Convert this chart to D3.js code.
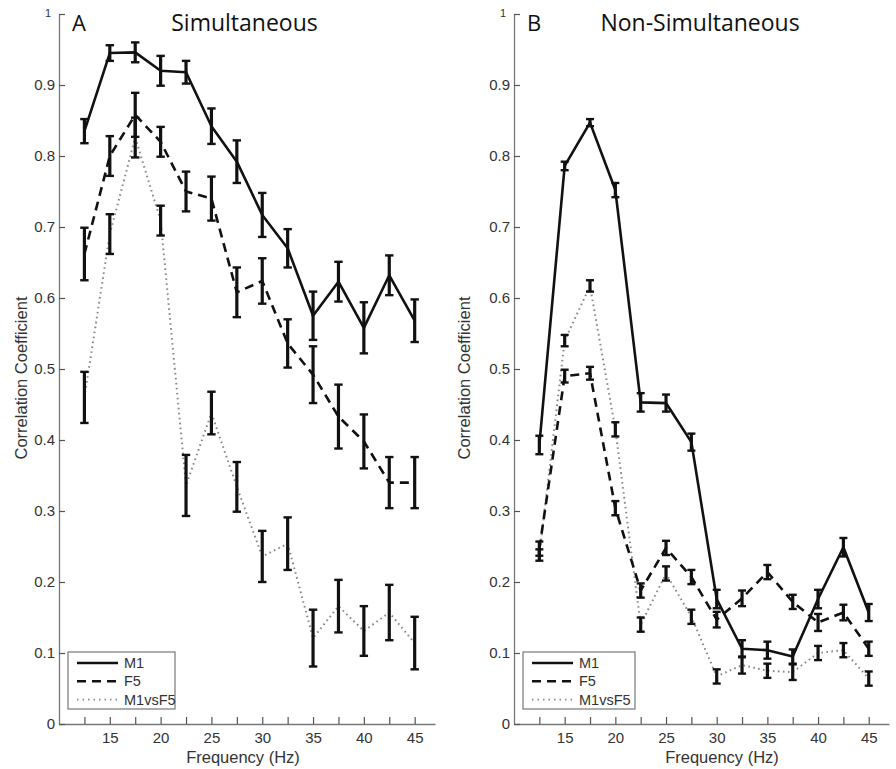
<!DOCTYPE html>
<html><head><meta charset="utf-8">
<script src="https://cdn.jsdelivr.net/npm/d3@7"></script>
<style>
html,body{margin:0;padding:0;background:#fff;}
svg{display:block;}
</style></head>
<body>
<script>
const freqs = [12.5, 15, 17.5, 20, 22.5, 25, 27.5, 30, 32.5, 35, 37.5, 40, 42.5, 45];
const xTickValues = [12.5, 15, 17.5, 20, 22.5, 25, 27.5, 30, 32.5, 35, 37.5, 40, 42.5, 45];
const xTickLabels = ["", "15", "", "20", "", "25", "", "30", "", "35", "", "40", "", "45"];
const yTickValues = [0, 0.1, 0.2, 0.3, 0.4, 0.5, 0.6, 0.7, 0.8, 0.9, 1];
const yTickLabels = ["0", "0.1", "0.2", "0.3", "0.4", "0.5", "0.6", "0.7", "0.8", "0.9", "1"];
const seriesNames = ["M1", "F5", "M1vsF5"];
const panelLetters = ["A", "B"];
const panelTitles = ["Simultaneous", "Non-Simultaneous"];

// Panel A (Simultaneous)
const simM1 = [0.835, 0.945, 0.946, 0.920, 0.918, 0.842, 0.792, 0.717, 0.670, 0.575, 0.623, 0.558, 0.632, 0.568];
const simM1Err = [0.017, 0.011, 0.014, 0.021, 0.016, 0.025, 0.030, 0.031, 0.027, 0.034, 0.028, 0.036, 0.028, 0.030];
const simF5 = [0.662, 0.800, 0.858, 0.820, 0.750, 0.740, 0.608, 0.624, 0.536, 0.492, 0.433, 0.398, 0.340, 0.340];
const simF5Err = [0.037, 0.028, 0.031, 0.021, 0.028, 0.031, 0.035, 0.032, 0.034, 0.040, 0.045, 0.038, 0.036, 0.036];
const simM1vsF5 = [0.460, 0.690, 0.826, 0.709, 0.336, 0.438, 0.334, 0.236, 0.254, 0.121, 0.166, 0.131, 0.157, 0.114];
const simM1vsF5Err = [0.036, 0.028, 0.028, 0.021, 0.043, 0.030, 0.035, 0.036, 0.037, 0.040, 0.037, 0.035, 0.039, 0.037];

// Panel B (Non-Simultaneous)
const nonM1 = [0.393, 0.786, 0.847, 0.752, 0.453, 0.452, 0.397, 0.176, 0.106, 0.104, 0.095, 0.176, 0.249, 0.157];
const nonM1Err = [0.013, 0.006, 0.005, 0.010, 0.013, 0.012, 0.012, 0.013, 0.012, 0.012, 0.010, 0.013, 0.013, 0.012];
const nonF5 = [0.247, 0.490, 0.494, 0.304, 0.188, 0.248, 0.207, 0.147, 0.177, 0.214, 0.172, 0.143, 0.157, 0.106];
const nonF5Err = [0.010, 0.009, 0.009, 0.010, 0.010, 0.010, 0.010, 0.011, 0.011, 0.010, 0.010, 0.012, 0.011, 0.010];
const nonM1vsF5 = [0.238, 0.540, 0.617, 0.415, 0.140, 0.212, 0.151, 0.067, 0.083, 0.075, 0.073, 0.100, 0.104, 0.064];
const nonM1vsF5Err = [0.008, 0.008, 0.008, 0.010, 0.010, 0.010, 0.010, 0.010, 0.012, 0.010, 0.011, 0.010, 0.010, 0.010];

const W = 896, H = 769;
const svg = d3.select("body").append("svg").attr("width", W).attr("height", H)
  .style("font-family", "'Liberation Sans', Arial, sans-serif");

const styles = [
  {stroke: "#111", width: 2.6, dash: null},
  {stroke: "#111", width: 2.6, dash: "9,6"},
  {stroke: "#888", width: 2, dash: "1.6,3.4"}
];

const panels = [
  {left: 59, right: 435, yLabelX: 21, xLabelX: 243, series: [[simM1, simM1Err], [simF5, simF5Err], [simM1vsF5, simM1vsF5Err]], capW: 4.2, legend: {x: 68, w: 107}},
  {left: 514, right: 889, yLabelX: 464, xLabelX: 722, series: [[nonM1, nonM1Err], [nonF5, nonF5Err], [nonM1vsF5, nonM1vsF5Err]], capW: 4, legend: {x: 523, w: 112}}
];
const plotTop = 14, plotBottom = 724;

panels.forEach((p, pi) => {
  const x = d3.scaleLinear().domain([10, 47]).range([p.left, p.right]);
  const y = d3.scaleLinear().domain([0, 1]).range([plotBottom, plotTop]);
  const g = svg.append("g");

  // x axis
  const xAxis = d3.axisBottom(x).tickValues(xTickValues)
    .tickFormat((d, i) => xTickLabels[i]).tickSizeInner(-7).tickSizeOuter(0).tickPadding(8);
  const gx = g.append("g").attr("transform", `translate(0,${plotBottom})`).call(xAxis);
  gx.select(".domain").attr("stroke", "#777").attr("stroke-width", 1.3);
  gx.selectAll(".tick line").attr("stroke", "#555").attr("stroke-width", 1.2);
  gx.selectAll(".tick text").attr("fill", "#333").style("font-size", "15px");

  // y axis
  const yAxis = d3.axisLeft(y).tickValues(yTickValues)
    .tickFormat((d, i) => yTickLabels[i]).tickSizeInner(-6).tickSizeOuter(0).tickPadding(4);
  const gy = g.append("g").attr("transform", `translate(${p.left},0)`).call(yAxis);
  gy.select(".domain").attr("stroke", "#777").attr("stroke-width", 1.3);
  gy.selectAll(".tick line").attr("stroke", "#555").attr("stroke-width", 1.2);
  gy.selectAll(".tick text").attr("fill", "#333").style("font-size", "15px");
  gy.selectAll(".tick text").filter(d => d === 1).style("font-size", "11px").attr("x", -8).attr("dy", "0.2em");

  // axis labels
  g.append("text").attr("x", p.xLabelX).attr("y", 763)
    .attr("text-anchor", "middle").attr("fill", "#333").style("font-size", "16.5px").text("Frequency (Hz)");
  g.append("text").attr("transform", `translate(${p.yLabelX + 6},${378}) rotate(-90)`)
    .attr("text-anchor", "middle").attr("fill", "#333").style("font-size", "16.5px").text("Correlation Coefficient");

  // panel letter and title
  g.append("text").attr("x", p.left + 13).attr("y", 31).attr("fill", "#111")
    .style("font-size", "22px").style("font-family", "'Open Sans', sans-serif").text(panelLetters[pi]);
  g.append("text").attr("x", pi === 0 ? 244.5 : 700).attr("y", 31).attr("text-anchor", "middle").attr("fill", "#111")
    .style("font-size", "23px").style("font-family", "'Open Sans', sans-serif").text(panelTitles[pi]);

  const line = d3.line().x((d, i) => x(freqs[i])).y(d => y(d));

  // series lines (dotted first, then dashed, then solid)
  [2, 1, 0].forEach(si => {
    const [vals] = p.series[si];
    const st = styles[si];
    g.append("path").datum(vals).attr("d", line).attr("fill", "none")
      .attr("stroke", st.stroke).attr("stroke-width", st.width)
      .attr("stroke-dasharray", st.dash).attr("stroke-linejoin", "round");
  });
  // error bars
  [2, 1, 0].forEach(si => {
    const [vals, errs] = p.series[si];
    const eg = g.append("g").attr("stroke", "#111");
    vals.forEach((v, i) => {
      const cx = x(freqs[i]);
      const y1 = y(v + errs[i]), y2 = y(v - errs[i]);
      eg.append("line").attr("x1", cx).attr("x2", cx).attr("y1", y1).attr("y2", y2).attr("stroke-width", 3.2);
      eg.append("line").attr("x1", cx - p.capW).attr("x2", cx + p.capW).attr("y1", y1).attr("y2", y1).attr("stroke-width", 2.4);
      eg.append("line").attr("x1", cx - p.capW).attr("x2", cx + p.capW).attr("y1", y2).attr("y2", y2).attr("stroke-width", 2.4);
    });
  });

  // legend
  const lg = g.append("g").attr("transform", `translate(${p.legend.x},652)`);
  lg.append("rect").attr("width", p.legend.w).attr("height", 57).attr("fill", "#fff")
    .attr("stroke", "#777").attr("stroke-width", 1.2);
  seriesNames.forEach((name, i) => {
    const st = styles[i];
    const yy = 11 + i * 18.3;
    lg.append("line").attr("x1", 9).attr("x2", 50).attr("y1", yy).attr("y2", yy)
      .attr("stroke", st.stroke).attr("stroke-width", i === 2 ? 1.6 : 2.6).attr("stroke-dasharray", i === 2 ? "1.5,4" : st.dash);
    lg.append("text").attr("x", 56).attr("y", yy + 5).attr("fill", "#333").style("font-size", "14.5px").text(name);
  });
});
</script>
</body></html>
